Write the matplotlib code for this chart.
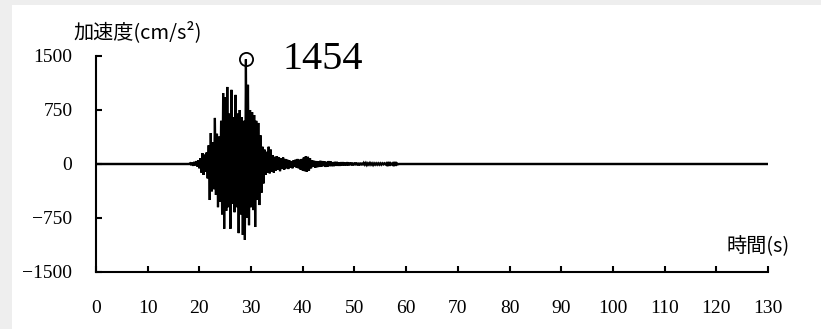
import numpy as np
import matplotlib
matplotlib.use("Agg")
import matplotlib.pyplot as plt
from matplotlib.patches import Rectangle

# Ground acceleration record (cm/s^2), sampled every 0.2 s from 18.0 s to 60.0 s
t_start, t_end, t_step = 18.0, 60.0, 0.2
accel = [
    0, 10, -15, 20, -25, 30, -20, 40, -35, 50,
    -60, 80, -120, 150, -150, 130, -110, 160, -200, 260,
    -500, 430, -380, 300, -350, 640, -430, 420, -600, 380,
    -520, 600, -700, 985, -900, 930, -650, 1070, -600, 700,
    -900, 1030, -550, 650, -670, 960, -600, 700, -960, 750,
    -700, 650, -985, 600, -1055, 1454, -750, 1100, -850, 750,
    -600, 720, -640, 680, -875, 600, -500, 570, -570, 400,
    -400, 240, -270, 200, -150, 170, -120, 240, -130, 200,
    -110, 120, -120, 100, -90, 110, -80, 90, -100, 80,
    -70, 90, -80, 70, -60, 60, -70, 50, -50, 40,
    -60, 50, -40, 60, -50, 70, -60, 60, -80, 70,
    -90, 90, -100, 110, -110, 100, -90, 80, -60, 50,
    -40, 45, -50, 40, -45, 35, -40, 45, -35, 40,
    -30, 35, -40, 30, -35, 40, -30, 35, -30, 25,
    -30, 30, -25, 30, -25, 20, -25, 25, -20, 25,
    -20, 20, -20, 25, -20, 20, -15, 20, -20, 15,
    -15, 20, -15, 15, -20, 15, -15, 15, -15, 15,
    -10, 15, -15, 10, -10, 15, -10, 10, -15, 10,
    -10, 10, -10, 10, -10, 10, -10, 10, -5, 10,
    -5, 10, -30, 30, -25, 10, -5, 10, -30, 30,
    -25, 10, -5, 0, 0, 0, 0, 0, 0, 0,
    0,
]
record_start, record_end = 0.0, 130.0

peak_time = 29.0
peak_value = 1454

x_ticks = list(range(0, 131, 10))
y_ticks = [-1500, -750, 0, 750, 1500]

t_samples = np.arange(len(accel)) * t_step + t_start
t = np.concatenate([[record_start], t_samples, [record_end]])
a = np.concatenate([[0.0], np.array(accel, float), [0.0]])

W, H = 821, 329
fig = plt.figure(figsize=(W / 100, H / 100), dpi=100, facecolor="#eeeeee")
fig.patches.append(Rectangle((12 / W, 0), 1, 1 - 5 / H, transform=fig.transFigure,
                             facecolor="white", edgecolor="none", zorder=-10))

ax = fig.add_axes([96 / W, (H - 272) / H, (768 - 96) / W, (272 - 56) / H])
ax.set_zorder(5)
ax.set_facecolor("none")
ax.plot(t, a, color="black", linewidth=1.6, solid_joinstyle="miter")
ax.plot([peak_time], [peak_value], marker="o", markersize=9.5, markerfacecolor="none",
        markeredgecolor="black", markeredgewidth=1.3, linestyle="none", clip_on=False)
ax.text(36.0, peak_value, str(peak_value), fontsize=29, family="Liberation Serif",
        va="center", ha="left")

ax.set_xlim(0, 130)
ax.set_ylim(-1500, 1500)
ax.set_xticks(x_ticks)
ax.set_yticks(y_ticks)
ax.set_xticklabels([str(v) for v in x_ticks])
ax.set_yticklabels([str(v).replace("-", "\u2212") for v in y_ticks])
for side in ("top", "right"):
    ax.spines[side].set_visible(False)
for side in ("left", "bottom"):
    ax.spines[side].set_linewidth(1.5)
ax.tick_params(axis="both", direction="in", length=4, width=1.5, colors="black")
ax.tick_params(axis="x", pad=20, labelsize=14)
ax.tick_params(axis="y", pad=17, labelsize=14)
for lbl in ax.get_xticklabels() + ax.get_yticklabels():
    lbl.set_family("Liberation Serif")
ax.axhline(0, color="black", linewidth=1.6, zorder=1)

jp = ["Noto Sans CJK JP", "DejaVu Sans"]
fig.text(73 / W, 1 - 32 / H, "加速度(cm/s²)", family=jp, fontsize=14.5,
         ha="left", va="center")
fig.text(790 / W, 1 - 247 / H, "時間(s)", family=jp, fontsize=14.5,
         ha="right", va="center")

fig.savefig("out.png", dpi=100, facecolor=fig.get_facecolor())
